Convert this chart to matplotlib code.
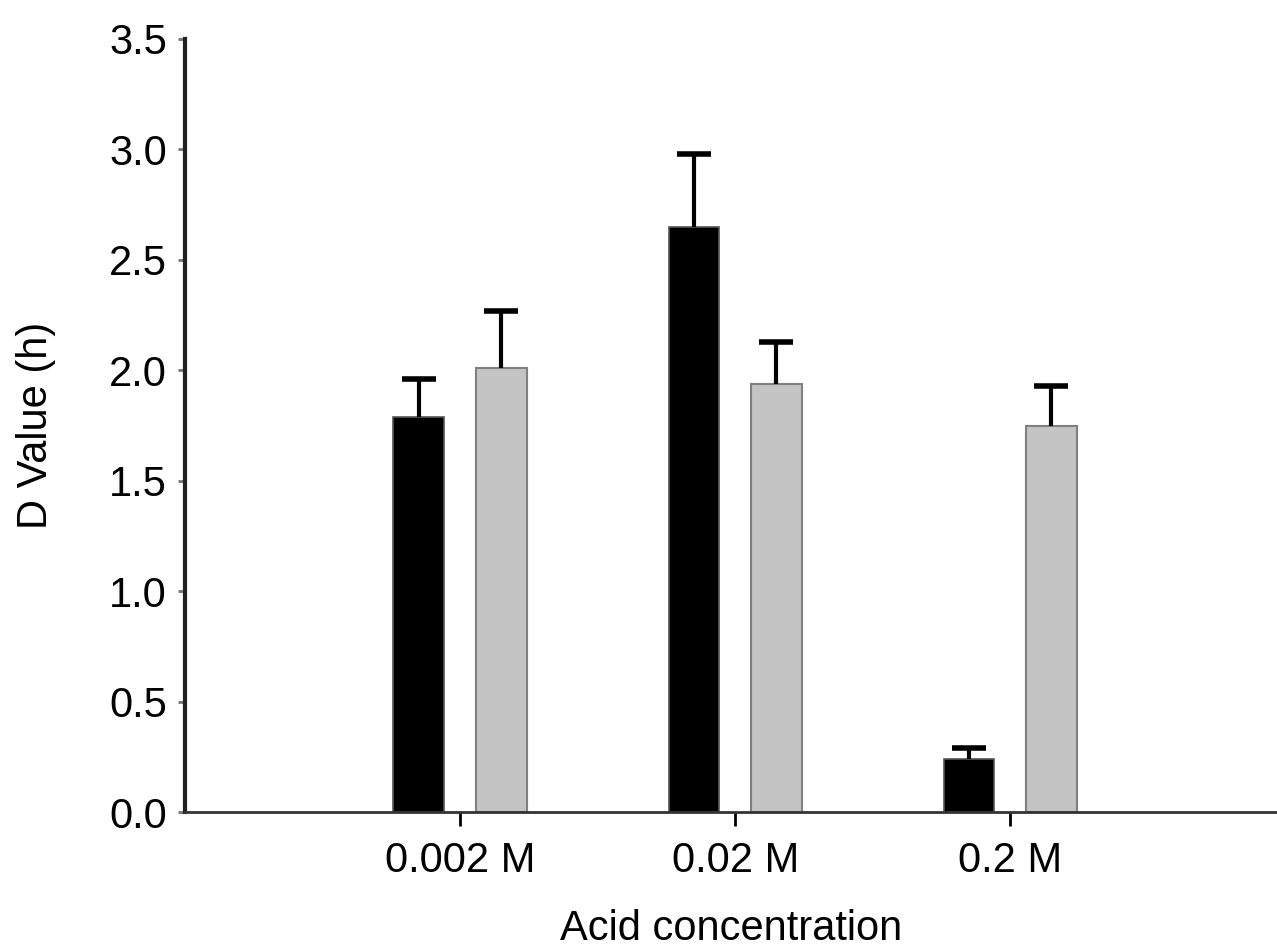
import numpy as np
import matplotlib.pyplot as plt

plt.rcParams['font.family'] = ['Liberation Sans', 'DejaVu Sans']

categories = ['0.002 M', '0.02 M', '0.2 M']
black_values = [1.79, 2.65, 0.24]
black_errors = [0.17, 0.33, 0.05]
gray_values = [2.01, 1.94, 1.75]
gray_errors = [0.26, 0.19, 0.18]

x = np.arange(1, len(categories) + 1)
width = 0.185
offset = 0.15

fig = plt.figure(figsize=(12.77, 9.5), dpi=100)
ax = fig.add_axes([0.145, 0.145, 0.855, 0.814])

ax.bar(x - offset, black_values, width, color='black', edgecolor='#555555', linewidth=1.2, zorder=2)
ax.bar(x + offset, gray_values, width, color='#c4c4c4', edgecolor='#808080', linewidth=1.5, zorder=2)

for xs, vals, errs in [(x - offset, black_values, black_errors), (x + offset, gray_values, gray_errors)]:
    eb = ax.errorbar(xs, vals, yerr=[np.zeros(len(vals)), errs], fmt='none', ecolor='black',
                     elinewidth=3, capsize=12, capthick=4, zorder=3)
    eb[1][0].set_visible(False)

ax.set_xlim(0, 3.97)
ax.set_ylim(0, 3.5)
ax.set_yticks(np.arange(0, 3.51, 0.5))
ax.set_yticklabels(['%.1f' % v for v in np.arange(0, 3.51, 0.5)])
ax.set_xticks(x)
ax.set_xticklabels(categories)

ax.spines['top'].set_visible(False)
ax.spines['right'].set_visible(False)
ax.spines['left'].set_linewidth(3)
ax.spines['left'].set_color('#222222')
ax.spines['bottom'].set_linewidth(2)
ax.spines['bottom'].set_color('#333333')

ax.tick_params(axis='y', labelsize=30, length=5, width=2, pad=8, color='#777777')
ax.tick_params(axis='x', labelsize=30, length=10, width=2, pad=11)

ax.set_xlabel('Acid concentration', fontsize=30, labelpad=20)
ax.set_ylabel('D Value (h)', fontsize=30, labelpad=38)

fig.savefig('out.png', dpi=100)
